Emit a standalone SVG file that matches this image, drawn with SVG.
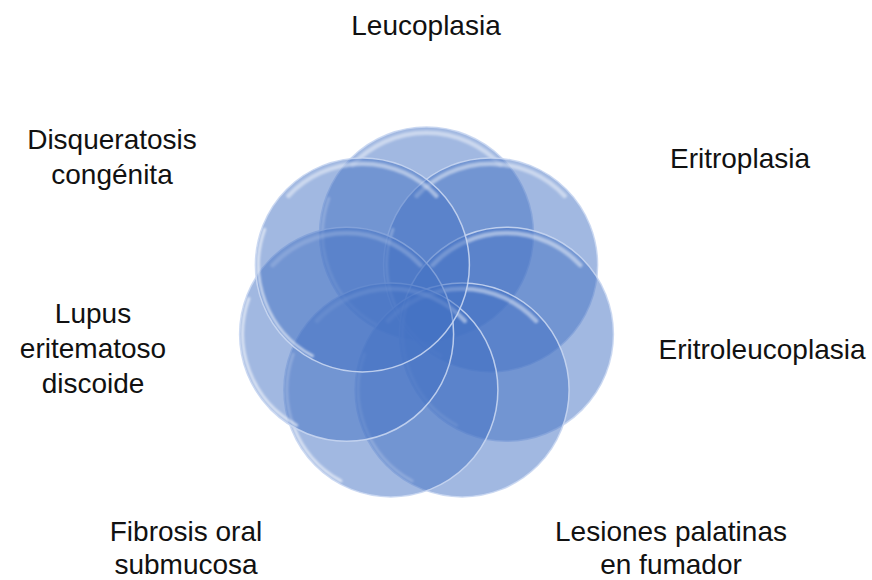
<svg xmlns="http://www.w3.org/2000/svg" width="872" height="580" viewBox="0 0 872 580">
  <style>
    .lbl { font-family: "Liberation Sans", Arial, sans-serif; font-size: 28px; fill: #111; text-anchor: middle; }
    .disc { fill: #4472c4; fill-opacity: 0.5; stroke: #c8d6f1; stroke-width: 1.5; stroke-opacity: 0.9; }
    .hl-top { fill: none; stroke: #ffffff; stroke-width: 4.5; stroke-opacity: 0.45; stroke-linecap: round; }
    .hl-bot { fill: none; stroke: #ffffff; stroke-width: 3; stroke-opacity: 0.6; stroke-linecap: round; }
  </style>
  <defs>
    <filter id="soft" x="-10%" y="-10%" width="120%" height="120%">
      <feGaussianBlur stdDeviation="0.8"/>
    </filter>
    <g id="bubble">
      <circle class="disc" cx="0" cy="0" r="107"/>
      <path class="hl-top" filter="url(#soft)" d="M -74 -69 A 101 101 0 0 1 74 -69"/>
      <path class="hl-bot" filter="url(#soft)" d="M -50 91 A 104 104 0 0 1 -97.7 -35.6"/>
    </g>
  </defs>
  <rect width="872" height="580" fill="#ffffff"/>

  <g id="node-leucoplasia">
    <use href="#bubble" transform="translate(426.5,234)"/>
    <text class="lbl" x="426" y="35">Leucoplasia</text>
  </g>
  <g id="node-eritroplasia">
    <use href="#bubble" transform="translate(490.6,264.9)"/>
    <text class="lbl" x="740" y="168">Eritroplasia</text>
  </g>
  <g id="node-eritroleucoplasia">
    <use href="#bubble" transform="translate(506.4,334.2)"/>
    <text class="lbl" x="762" y="359">Eritroleucoplasia</text>
  </g>
  <g id="node-lesiones">
    <use href="#bubble" transform="translate(462.1,389.9)"/>
    <text class="lbl" x="671" y="541">Lesiones palatinas</text>
    <text class="lbl" x="671" y="574">en fumador</text>
  </g>
  <g id="node-fibrosis">
    <use href="#bubble" transform="translate(390.9,389.9)"/>
    <text class="lbl" x="186" y="541">Fibrosis oral</text>
    <text class="lbl" x="186" y="574">submucosa</text>
  </g>
  <g id="node-lupus">
    <use href="#bubble" transform="translate(346.6,334.2)"/>
    <text class="lbl" x="93" y="323">Lupus</text>
    <text class="lbl" x="93" y="358">eritematoso</text>
    <text class="lbl" x="93" y="393">discoide</text>
  </g>
  <g id="node-disqueratosis">
    <use href="#bubble" transform="translate(362.4,264.9)"/>
    <text class="lbl" x="112" y="149">Disqueratosis</text>
    <text class="lbl" x="112" y="184">congénita</text>
  </g>
  <g id="connectors"></g>
</svg>
